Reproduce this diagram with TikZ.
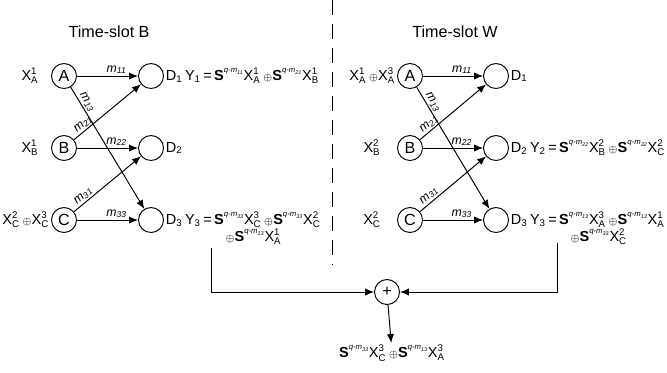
\documentclass[tikz,border=0pt]{standalone}
\usepackage{amsmath}
\usepackage{fontspec}
\setmainfont{Liberation Sans}
\usetikzlibrary{arrows.meta}

\newcommand{\Xv}[2]{X$^{\text{#1}}_{\text{#2}}$}
\newcommand{\Sq}[1]{\textbf{S}\raisebox{1.05ex}{\fontsize{4.8}{5}\selectfont\itshape q-m\textsubscript{#1}}}
\newcommand{\mlab}[1]{\textit{m}\textsubscript{\itshape #1}}
\newcommand{\xo}{\,{\fontsize{6}{6}\selectfont$\oplus$}}

\tikzset{
    ring/.style={draw, circle, minimum size=15.5pt, inner sep=0pt, line width=0.6pt},
    link/.style={line width=0.6pt, -{Latex[length=5.5pt,width=4.5pt]}},
    lbl/.style={above, inner sep=1pt, font=\fontsize{7.6}{8}\selectfont},
    eq/.style={anchor=west, inner sep=1pt, font=\fontsize{9}{10}\selectfont},
    inp/.style={inner sep=1pt, font=\fontsize{9}{10}\selectfont}
}

\begin{document}
\begin{tikzpicture}[x=0.62pt, y=-0.62pt, font=\fontsize{10}{12}\selectfont]
    \useasboundingbox (0,0) rectangle (667,372);

    % time-slot B
    \node (tB) at (109,32) {Time-slot B};

    \node[ring] (A) at (64,76) {A};
    \node[ring] (B) at (64,148) {B};
    \node[ring] (C) at (64,220) {C};
    \node[ring] (D1) at (151,76) {};
    \node[ring] (D2) at (151,148) {};
    \node[ring] (D3) at (151,220) {};

    \node[inp] (xA) at (30,76) {\Xv{1}{A}};
    \node[inp] (xB) at (30,148) {\Xv{1}{B}};
    \node[inp, anchor=east] (xC) at (C.west) {\Xv{2}{C}\xo\Xv{3}{C}};

    \node[eq] (y1) at (D1.east) {D\textsubscript{1}\,Y\textsubscript{1}\,=\,\Sq{11}\Xv{1}{A}\xo\Sq{21}\Xv{1}{B}};
    \node[eq] (y2) at (D2.east) {D\textsubscript{2}};
    \node[eq] (y3) at (D3.east) {D\textsubscript{3}\,Y\textsubscript{3}\,=\,\Sq{33}\Xv{3}{C}\xo\Sq{33}\Xv{2}{C}};
    \node[eq] (y3b) at (221,237) {\xo\Sq{13}\Xv{1}{A}};

    \draw[link] (A) -- node[lbl, pos=0.65] {\mlab{11}} (D1);
    \draw[link] (A) -- node[lbl, sloped, pos=0.15] {\mlab{13}} (D3);
    \draw[link] (B) -- node[lbl, sloped, pos=0.2] {\mlab{21}} (D1);
    \draw[link] (B) -- node[lbl, pos=0.65] {\mlab{22}} (D2);
    \draw[link] (C) -- node[lbl, sloped, pos=0.2] {\mlab{31}} (D2);
    \draw[link] (C) -- node[lbl, pos=0.65] {\mlab{33}} (D3);

    % separator
    \coordinate (sepT) at (332,0);
    \coordinate (sepB) at (332,265);
    \draw[line width=0.6pt, dash pattern=on 9.3pt off 5.6pt] (sepT) -- (sepB);

    % time-slot W
    \node (tW) at (455,32) {Time-slot W};

    \node[ring] (A2) at (410,76) {A};
    \node[ring] (B2) at (410,148) {B};
    \node[ring] (C2) at (410,220) {C};
    \node[ring] (E1) at (496,76) {};
    \node[ring] (E2) at (496,148) {};
    \node[ring] (E3) at (496,220) {};

    \node[inp, anchor=east] (xA2) at (A2.west) {\Xv{1}{A}\xo\Xv{3}{A}};
    \node[inp] (xB2) at (372,148) {\Xv{2}{B}};
    \node[inp] (xC2) at (372,220) {\Xv{2}{C}};

    \node[eq] (z1) at (E1.east) {D\textsubscript{1}};
    \node[eq] (z2) at (E2.east) {D\textsubscript{2}\,Y\textsubscript{2}\,=\,\Sq{22}\Xv{2}{B}\xo\Sq{32}\Xv{2}{C}};
    \node[eq] (z3) at (E3.east) {D\textsubscript{3}\,Y\textsubscript{3}\,=\,\Sq{13}\Xv{3}{A}\xo\Sq{13}\Xv{1}{A}};
    \node[eq] (z3b) at (566,237) {\xo\Sq{33}\Xv{2}{C}};

    \draw[link] (A2) -- node[lbl, pos=0.65] {\mlab{11}} (E1);
    \draw[link] (A2) -- node[lbl, sloped, pos=0.15] {\mlab{13}} (E3);
    \draw[link] (B2) -- node[lbl, sloped, pos=0.2] {\mlab{21}} (E1);
    \draw[link] (B2) -- node[lbl, pos=0.65] {\mlab{22}} (E2);
    \draw[link] (C2) -- node[lbl, sloped, pos=0.2] {\mlab{31}} (E2);
    \draw[link] (C2) -- node[lbl, pos=0.65] {\mlab{33}} (E3);

    % combining
    \node[ring] (sum) at (387,292) {+};
    \coordinate (fbL) at (211,248);
    \coordinate (fbR) at (557,243);
    \node[eq, anchor=north] (res) at (392,343) {\Sq{33}\Xv{3}{C}\xo\Sq{13}\Xv{3}{A}};

    \draw[link] (fbL) |- (sum);
    \draw[link] (fbR) |- (sum);
    \draw[link] (sum) -- (res);
\end{tikzpicture}
\end{document}
